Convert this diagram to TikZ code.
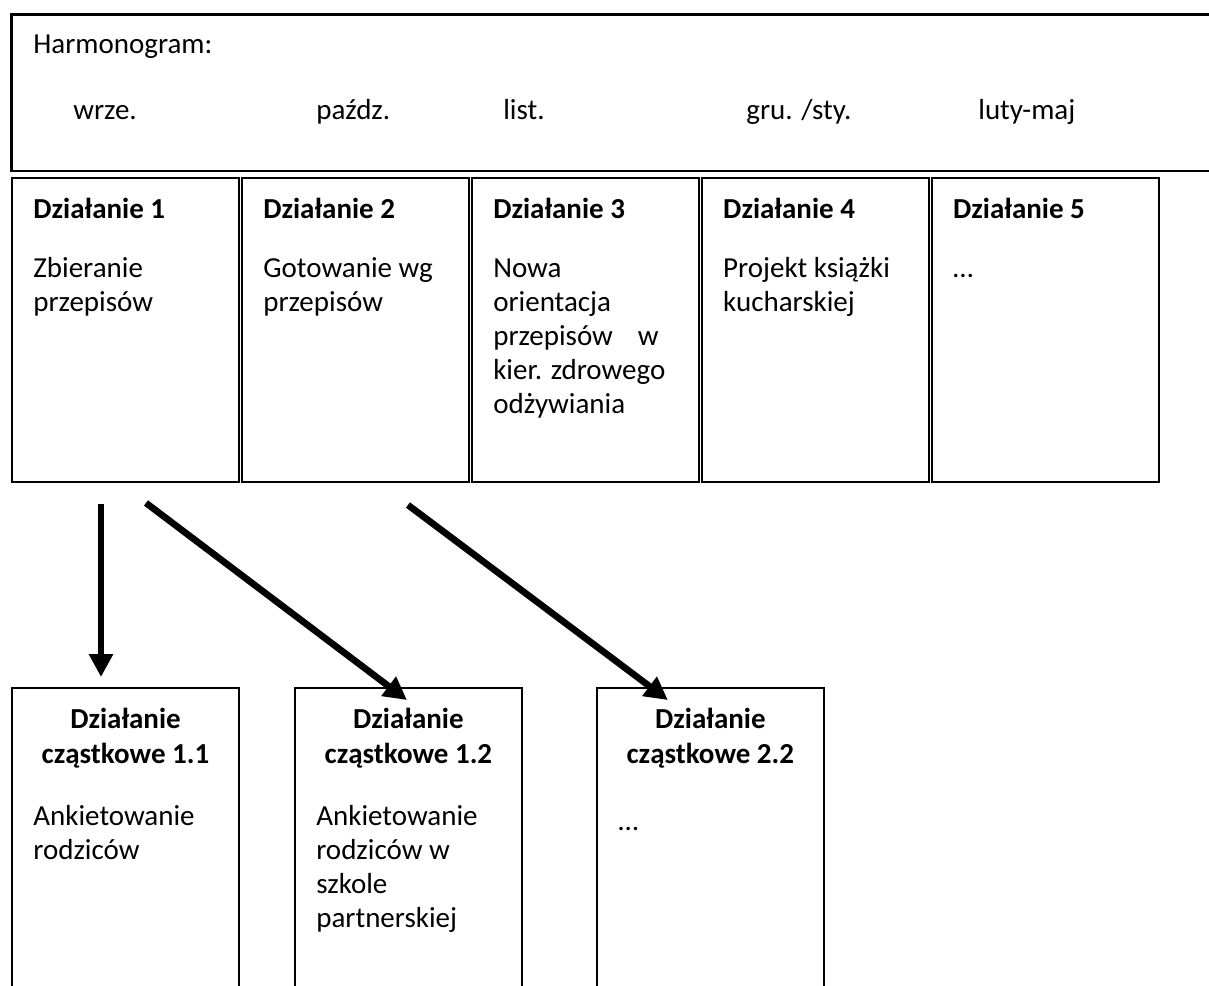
\documentclass[tikz,border=0pt]{standalone}
\usepackage{fontspec}
\setmainfont{Carlito}
\usetikzlibrary{arrows.meta,positioning}

\begin{document}
\begin{tikzpicture}[
    x=0.02cm, y=-0.02cm,
    font=\fontsize{16.5}{19.35}\selectfont,
    plan/.style={rectangle,draw,line width=1.7pt,inner sep=0pt,outer sep=0pt,minimum width=24.2cm,minimum height=3.14cm},
    task/.style={rectangle,draw,line width=1pt,inner sep=0pt,outer sep=0pt,minimum width=4.54cm,minimum height=6.08cm},
    subtask/.style={rectangle,draw,line width=0.9pt,inner sep=0pt,outer sep=0pt,minimum width=4.54cm,minimum height=6.6cm},
    txt/.style={inner sep=0pt,align=left,anchor=base west},
    boxtxt/.style={inner sep=0pt,align=left,anchor=north west,execute at begin node=\rule{0pt}{0.5cm}},
    head/.style={inner sep=0pt,align=center,anchor=north,execute at begin node=\rule{0pt}{0.5cm},font=\fontsize{16.5}{19.9}\selectfont\bfseries},
    subtxt/.style={boxtxt,font=\fontsize{16.5}{19.35}\selectfont},
    arrow/.style={line width=3.8pt,-{Triangle[length=0.46cm,width=0.46cm]}}
]
    \useasboundingbox (0,0) rectangle (1209,985);
    \clip (0,0) rectangle (1209,985);

    % Harmonogram
    \node[plan] (harm) at (616,92.5) {};
    \node[txt] (title) at (33,53) {Harmonogram:};
    \foreach \x/\m [count=\i] in {73/wrze., 316/paźdz., 503/list., 746/{gru. /sty.}, 978/luty-maj}
        \node[txt] (m\i) at (\x,119) {\m};

    % Dzialania
    \node[task] (d1) at (125.5,330) {};
    \node[task,right=0.06cm of d1] (d2) {};
    \node[task,right=0.06cm of d2] (d3) {};
    \node[task,right=0.06cm of d3] (d4) {};
    \node[task,right=0.06cm of d4] (d5) {};
    \node[boxtxt] (t1) at ([shift={(21,20)}]d1.north west) {\textbf{Działanie 1}\\[0.5cm]Zbieranie\\przepisów};
    \node[boxtxt] (t2) at ([shift={(21,20)}]d2.north west) {\textbf{Działanie 2}\\[0.5cm]Gotowanie wg\\przepisów};
    \node[boxtxt] (t3) at ([shift={(21,20)}]d3.north west) {\textbf{Działanie 3}\\[0.5cm]Nowa\\orientacja\\przepisów\hspace{0.37cm} w\\kier. zdrowego\\odżywiania};
    \node[boxtxt] (t4) at ([shift={(21,20)}]d4.north west) {\textbf{Działanie 4}\\[0.5cm]Projekt książki\\kucharskiej};
    \node[boxtxt] (t5) at ([shift={(21,20)}]d5.north west) {\textbf{Działanie 5}\\[0.5cm]…};

    % Dzialania czastkowe
    \node[subtask] (s11) at (125.5,853) {};
    \node[subtask,right=1.12cm of s11] (s12) {};
    \node[subtask,right=1.5cm of s12] (s22) {};
    \node[head] (h11) at ([shift={(0,20)}]s11.north) {Działanie\\cząstkowe 1.1};
    \node[head] (h12) at ([shift={(0,20)}]s12.north) {Działanie\\cząstkowe 1.2};
    \node[head] (h22) at ([shift={(0,20)}]s22.north) {Działanie\\cząstkowe 2.2};
    \node[subtxt] (b11) at ([shift={(21,117)}]s11.north west) {Ankietowanie\\rodziców};
    \node[subtxt] (b12) at ([shift={(21,117)}]s12.north west) {Ankietowanie\\rodziców w\\szkole\\partnerskiej};
    \node[subtxt] (b22) at ([shift={(21,117)}]s22.north west) {…};

    \draw[arrow] ([shift={(-24.5,22)}]d1.south) -- ([shift={(-24.5,-11)}]s11.north);
    \draw[arrow] ([shift={(20.5,21)}]d1.south) -- ([shift={(-1.5,12)}]s12.north);
    \draw[arrow] ([shift={(52.5,23)}]d2.south) -- ([shift={(-42.5,12)}]s22.north);
\end{tikzpicture}
\end{document}
